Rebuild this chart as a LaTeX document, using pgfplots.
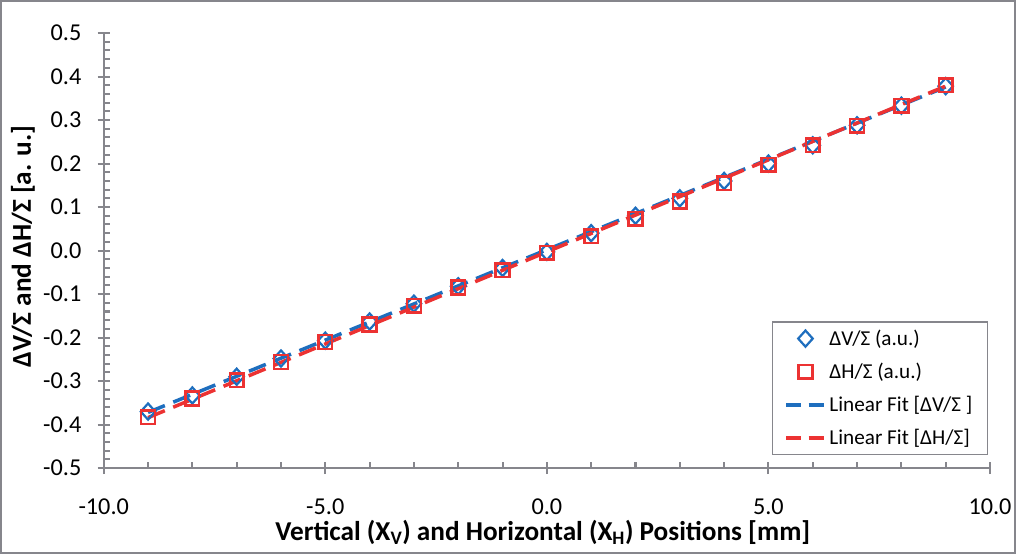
\documentclass[border=0pt]{standalone}
\usepackage{pgfplots}
\pgfplotsset{compat=1.18}
\usepackage{fontspec}
\setmainfont{Carlito}
\definecolor{vblue}{RGB}{30,110,190}
\definecolor{hred}{RGB}{236,50,50}
\definecolor{axgray}{RGB}{134,134,140}
\pgfplotsset{
  markleg/.style={legend image code/.code={\draw[mark repeat=2, mark phase=2, ##1] plot coordinates {(0pt,0pt) (19pt,0pt) (38pt,0pt)};}},
  lineleg/.style={legend image code/.code={\draw[##1, dash pattern=on 15pt off 7pt] (0pt,0pt) -- (38pt,0pt);}},
}
\begin{document}
\begin{tikzpicture}[x=1pt,y=1pt]
\begin{axis}[
  scale only axis,
  width=878pt, height=431pt,
  xmin=-10, xmax=10, ymin=-0.5, ymax=0.5,
  axis x line*=bottom, axis y line*=left,
  axis line style={axgray, line width=2pt, -},
  xtick={-10,-5,0,5,10},
  minor xtick={-9,-8,-7,-6,-4,-3,-2,-1,1,2,3,4,6,7,8,9},
  ytick={-0.5,-0.4,...,0.5},
  minor y tick num=4,
  tick align=inside,
  major tick length=12pt,
  minor tick length=6pt,
  every major x tick/.append style={yshift=-6pt},
  every major y tick/.append style={xshift=-6pt},
  tick style={axgray, line width=2pt},
  ticklabel style={/pgf/number format/fixed, /pgf/number format/fixed zerofill, /pgf/number format/precision=1, /pgf/number format/assume math mode=true, font=\fontsize{24}{28}\selectfont, text=black, inner sep=0pt},
  xticklabel style={anchor=north, yshift=-30pt},
  yticklabel style={anchor=east, xshift=-22pt},
  xlabel={\textbf{Vertical (X\textsubscript{V}) and Horizontal (X\textsubscript{H}) Positions [mm]}},
  ylabel={\textbf{ΔV/Σ and ΔH/Σ [a. u.]}},
  label style={font=\fontsize{27}{30}\selectfont},
  xlabel style={at={(rel axis cs:0.5,0)}, anchor=base, yshift=-72pt, xshift=-4pt},
  ylabel style={at={(rel axis cs:0,0.5)}, anchor=center, yshift=80pt, xshift=4pt},
  legend style={at={(rel axis cs:0.998,0.030)}, anchor=south east,
    draw=axgray, line width=1.5pt, font=\fontsize{21}{24}\selectfont,
    row sep=12pt, inner xsep=12pt, inner ysep=6pt,
    nodes={inner xsep=3pt}},
  legend cell align=left,
  clip=false,
]
\addplot[only marks, mark=diamond, mark size=8pt, mark options={draw=vblue, line width=2.2pt, fill=none, xscale=1.2}, markleg]
coordinates {(-9,-0.370) (-8,-0.333) (-7,-0.290) (-6,-0.248) (-5,-0.207) (-4,-0.163) (-3,-0.122) (-2,-0.082) (-1,-0.040) (0,-0.003) (1,0.040) (2,0.080) (3,0.120) (4,0.160) (5,0.200) (6,0.242) (7,0.288) (8,0.333) (9,0.378)};
\addlegendentry{ΔV/Σ (a.u.)}
\addplot[only marks, mark=square, mark size=6.8pt, mark options={draw=hred, line width=2.5pt, fill=none}, markleg]
coordinates {(-9,-0.383) (-8,-0.340) (-7,-0.298) (-6,-0.256) (-5,-0.210) (-4,-0.170) (-3,-0.127) (-2,-0.085) (-1,-0.045) (0,-0.005) (1,0.033) (2,0.073) (3,0.113) (4,0.155) (5,0.197) (6,0.242) (7,0.287) (8,0.333) (9,0.380)};
\addlegendentry{ΔH/Σ (a.u.)}
\addplot[vblue, line width=3.5pt, dash pattern=on 18pt off 9pt, no marks, lineleg]
coordinates {(-9,-0.372) (9,0.376)};
\addlegendentry{Linear Fit [ΔV/Σ ]}
\addplot[hred, line width=3.5pt, dash pattern=on 18pt off 9pt, no marks, lineleg]
coordinates {(-9,-0.384) (9,0.378)};
\addlegendentry{Linear Fit [ΔH/Σ]}
\end{axis}
\draw[axgray, line width=1.5pt] (current axis.south west) ++(-102pt,-84pt) rectangle ++(1005pt,547pt);
\end{tikzpicture}
\end{document}
